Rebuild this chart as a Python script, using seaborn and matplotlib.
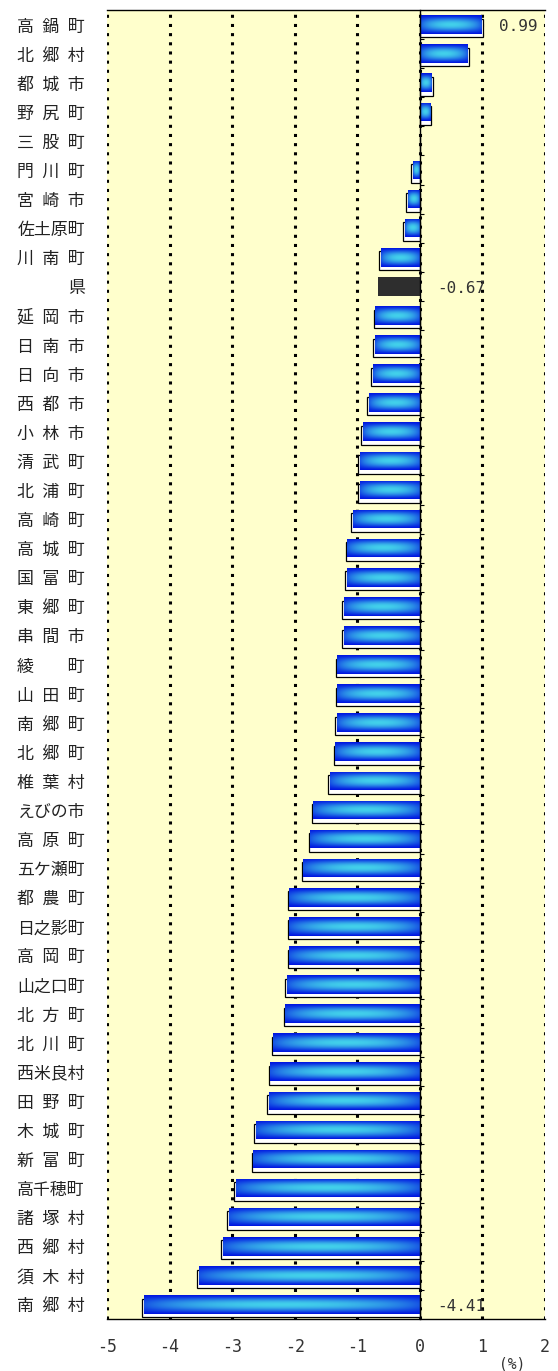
import matplotlib
matplotlib.use("Agg")

import matplotlib.pyplot as plt
import numpy as np
import pandas as pd
import seaborn as sns

areas = [
    "高鍋町", "北郷村", "都城市", "野尻町", "三股町", "門川町", "宮崎市", "佐土原町",
    "川南町", "県", "延岡市", "日南市", "日向市", "西都市", "小林市", "清武町",
    "北浦町", "高崎町", "高城町", "国富町", "東郷町", "串間市", "綾町", "山田町",
    "南郷町", "北郷町", "椎葉村", "えびの市", "高原町", "五ケ瀬町", "都農町", "日之影町",
    "高岡町", "山之口町", "北方町", "北川町", "西米良村", "田野町", "木城町", "新富町",
    "高千穂町", "諸塚村", "西郷村", "須木村", "南郷村",
]
rates = [
    0.99, 0.76, 0.19, 0.16, 0.00, -0.11, -0.19, -0.24,
    -0.62, -0.67, -0.71, -0.72, -0.75, -0.82, -0.91, -0.96,
    -0.96, -1.07, -1.16, -1.17, -1.22, -1.22, -1.32, -1.32,
    -1.33, -1.35, -1.44, -1.70, -1.75, -1.86, -2.09, -2.09,
    -2.09, -2.13, -2.15, -2.34, -2.39, -2.41, -2.62, -2.66,
    -2.94, -3.05, -3.15, -3.53, -4.41,
]
labelled = ["高鍋町", "県", "南郷村"]
x_ticks = [-5, -4, -3, -2, -1, 0, 1, 2]

CJK = ["Noto Sans CJK JP", "DejaVu Sans"]
MONO = "DejaVu Sans Mono"


def spaced(name: str) -> str:
    """Spread names so every label is four characters wide."""
    if len(name) == 3:
        return "\u2002".join(name)
    if len(name) == 2:
        return name[0] + "\u3000\u3000" + name[1]
    return name


df = pd.DataFrame({"area": areas, "rate": rates})
df["kind"] = np.where(df["area"] == "県", "pref", "town")

sns.set_theme(style="white")
plt.rcParams["font.family"] = CJK

fig = plt.figure(figsize=(5.58, 13.71), dpi=100)
ax = fig.add_axes([107 / 558, 1 - 1319 / 1371, 438 / 558, 1309 / 1371])
ax.set_facecolor("#ffffcc")

n = len(df)
bar_h = 0.64
vals = df["rate"].to_numpy()

# white drop shadows behind the bars
town = df["kind"] == "town"
ax.barh(
    np.arange(n)[town] + 0.12,
    (vals + np.sign(vals) * 0.025)[town],
    height=bar_h,
    color="white",
    edgecolor="black",
    linewidth=0.9,
    zorder=2,
)

sns.barplot(
    data=df,
    y="area",
    x="rate",
    hue="kind",
    palette={"town": "#1030e0", "pref": "#2e2e2e"},
    order=areas,
    width=bar_h,
    legend=False,
    ax=ax,
    zorder=3,
    linewidth=0,
)

# blue gradient fill: dark edges, cyan centre
hh, ww = 40, 200
tv = np.sin(np.linspace(0, np.pi, hh)) ** 1.2
th = np.sin(np.linspace(0.12, np.pi - 0.12, ww)) ** 0.5
mix = (tv[:, None] * th[None, :])[..., None]
dark = np.array([0.0, 0.08, 0.88])
light = np.array([0.26, 0.82, 0.92])
grad = dark + (light - dark) * mix

for p in ax.patches:
    fc = p.get_facecolor()
    if p.get_zorder() < 3 or fc[2] < 0.5 or abs(p.get_width()) < 1e-6:
        continue
    x0, y0 = p.get_x(), p.get_y()
    x1, y1 = x0 + p.get_width(), y0 + p.get_height()
    im = ax.imshow(
        grad,
        extent=(min(x0, x1), max(x0, x1), max(y0, y1), min(y0, y1)),
        aspect="auto",
        interpolation="bilinear",
        zorder=3.5,
    )
    im.set_clip_path(p)

ax.set_xlim(-5, 2)
ax.set_ylim(n - 0.5, -0.5)
ax.set_aspect("auto")

ax.set_xticks(x_ticks)
ax.set_xticklabels([str(t) for t in x_ticks], family=MONO, fontsize=12, color="#333333")
ax.set_yticks(range(n))
ax.set_yticklabels([spaced(a) for a in areas], fontsize=12.2, color="#222222")
ax.tick_params(axis="x", length=0, pad=14)
ax.tick_params(axis="y", length=0, pad=16)
ax.set_xlabel("")
ax.set_ylabel("")

ax.grid(axis="x", color="black", linewidth=2.2, linestyle=(0, (1.0, 2.0)))
ax.grid(axis="y", visible=False)
ax.set_axisbelow(True)
for side in ("left", "right"):
    ax.spines[side].set_visible(False)
for side in ("top", "bottom"):
    ax.spines[side].set_color("black")
    ax.spines[side].set_linewidth(1.0)

# zero axis with small ticks between rows
zax = ax.twinx()
zax.set_ylim(n - 0.5, -0.5)
zax.spines["right"].set_position(("data", 0))
for side in ("left", "top", "bottom"):
    zax.spines[side].set_visible(False)
zax.spines["right"].set_color("black")
zax.spines["right"].set_linewidth(1.0)
zax.set_yticks(np.arange(n - 1) + 0.5)
zax.set_yticklabels([])
zax.tick_params(axis="y", direction="out", length=3, width=0.8, color="black")
zax.grid(False)

for name in labelled:
    i = areas.index(name)
    v = rates[i]
    ax.text(max(v, 0) + 0.27, i + 0.08, f"{v:.2f}", ha="left", va="center",
            family=MONO, fontsize=11.5, color="#333333", zorder=5)

ax.text(1.48, -0.034, "(%)", transform=ax.get_xaxis_transform(), ha="center",
        va="center", family=MONO, fontsize=10.5, color="#333333")

fig.savefig("out.png", dpi=100)
plt.close(fig)
